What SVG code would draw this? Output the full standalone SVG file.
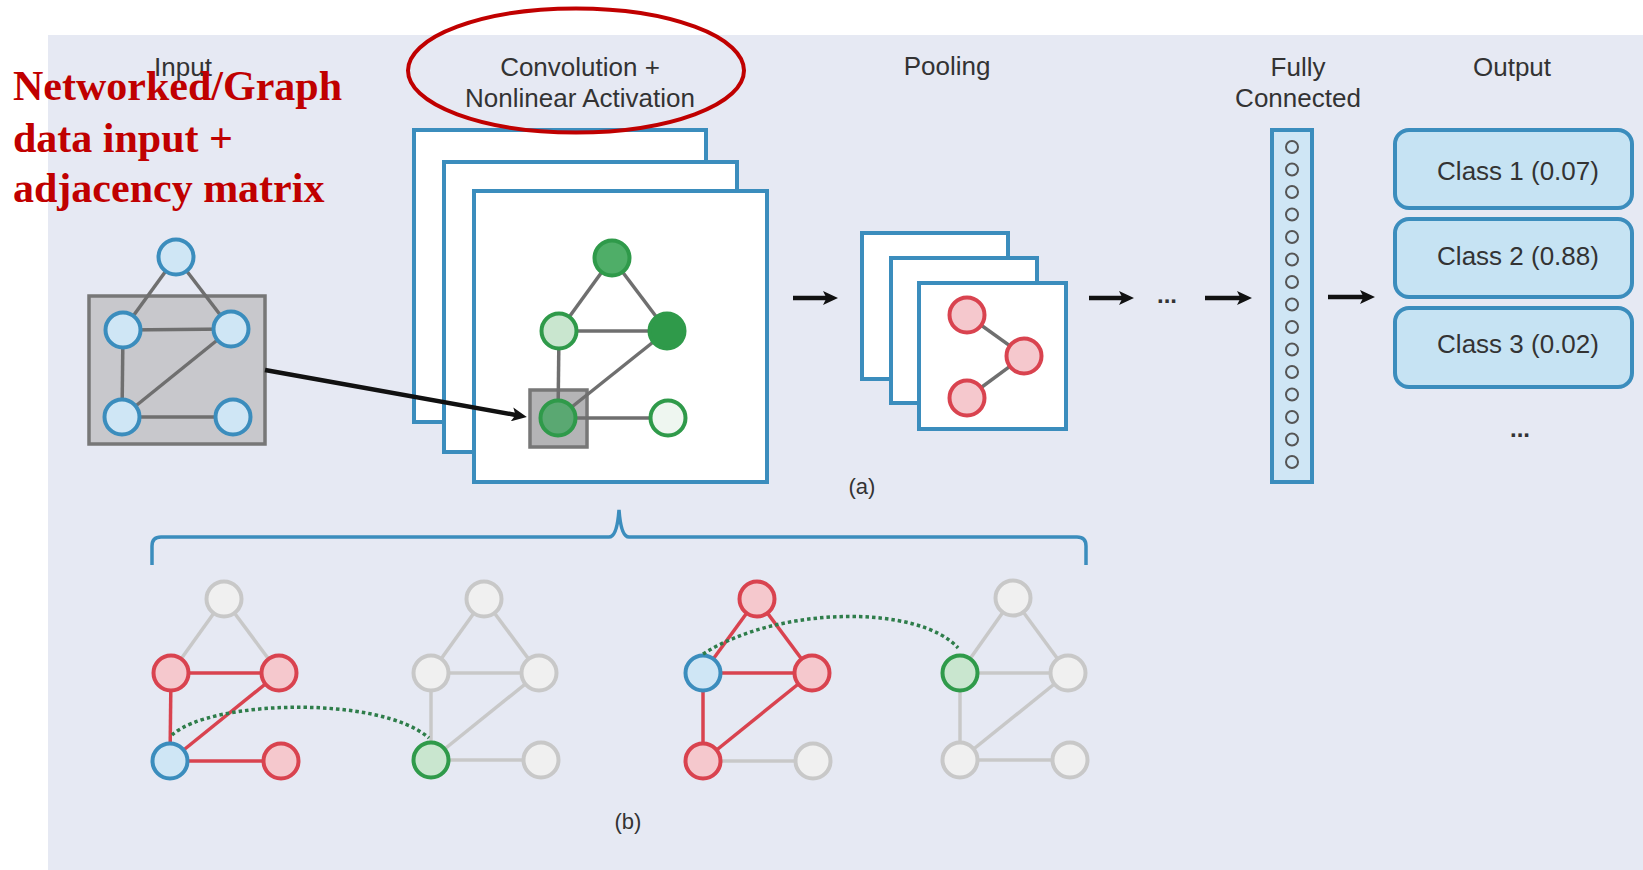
<svg xmlns="http://www.w3.org/2000/svg" width="1643" height="870" viewBox="0 0 1643 870">
<defs>
<style>
.lbl{font-family:"Liberation Sans",Arial,sans-serif;font-size:26px;fill:#333;text-anchor:middle}
.sm{font-family:"Liberation Sans",Arial,sans-serif;font-size:22px;fill:#333;text-anchor:middle}
.dots{font-family:"Liberation Sans",Arial,sans-serif;font-size:24px;font-weight:bold;fill:#333;text-anchor:middle}
.red{font-family:"Liberation Serif","Times New Roman",serif;font-size:42px;font-weight:bold;fill:#C00000}
.frame{fill:#fff;stroke:#3b8dbd;stroke-width:4}
.nb{fill:#cfe6f5;stroke:#3b8dbd;stroke-width:4}
.nr{fill:#f5c8cd;stroke:#d9434f;stroke-width:4}
.ng{fill:#f0f0f0;stroke:#c8c8c8;stroke-width:4}
.ngr{fill:#c9e6cf;stroke:#2f9a4a;stroke-width:4}
.ed{stroke:#6f6f6f;stroke-width:3.5;fill:none}
.eg{stroke:#c8c8c8;stroke-width:3.5;fill:none}
.er{stroke:#d9434f;stroke-width:3.5;fill:none}
.arr{stroke:#111;stroke-width:4.5;fill:none;marker-end:url(#ah)}
.dot{stroke:#2e7d4a;stroke-width:3.5;fill:none;stroke-dasharray:3.5 3}
.fc{fill:none;stroke:#555;stroke-width:2}
.ob{fill:#c6e3f3;stroke:#3b8dbd;stroke-width:4}
</style>
<marker id="ah" markerWidth="15" markerHeight="14" refX="5" refY="7" orient="auto" markerUnits="userSpaceOnUse">
<path d="M0,0 L15,7 L0,14 L3.5,7 z" fill="#111"/>
</marker>
</defs>
<rect x="0" y="0" width="1643" height="870" fill="#fff"/>
<rect x="48" y="35" width="1595" height="835" fill="#e6e9f3"/>

<g id="labels">
<text class="lbl" x="183" y="76">Input</text>
<text class="lbl" x="580" y="76">Convolution +</text>
<text class="lbl" x="580" y="107">Nonlinear Activation</text>
<text class="lbl" x="947" y="75">Pooling</text>
<text class="lbl" x="1298" y="76">Fully</text>
<text class="lbl" x="1298" y="107">Connected</text>
<text class="lbl" x="1512" y="76">Output</text>
<text class="sm" x="862" y="494">(a)</text>
<text class="sm" x="628" y="829">(b)</text>
</g>

<g id="input-graph">
<rect x="89" y="296" width="176" height="148" fill="#c8c8cc" stroke="#777" stroke-width="3.5"/>
<g class="ed">
<line x1="176" y1="257" x2="123" y2="330"/>
<line x1="176" y1="257" x2="231" y2="329"/>
<line x1="123" y1="330" x2="231" y2="329"/>
<line x1="123" y1="330" x2="122" y2="417"/>
<line x1="122" y1="417" x2="231" y2="329"/>
<line x1="122" y1="417" x2="233" y2="417"/>
</g>
<circle class="nb" cx="176" cy="257" r="17.5"/>
<circle class="nb" cx="123" cy="330" r="17.5"/>
<circle class="nb" cx="231" cy="329" r="17.5"/>
<circle class="nb" cx="122" cy="417" r="17.5"/>
<circle class="nb" cx="233" cy="417" r="17.5"/>
</g>

<g id="conv">
<rect class="frame" x="414" y="130" width="292" height="292"/>
<rect class="frame" x="444" y="162" width="293" height="290"/>
<rect class="frame" x="474" y="191" width="293" height="291"/>
<rect x="530" y="390" width="57" height="57" fill="#b4b4b6" stroke="#777" stroke-width="3.5"/>
<g class="ed">
<line x1="612" y1="258" x2="559" y2="331"/>
<line x1="612" y1="258" x2="667" y2="331"/>
<line x1="559" y1="331" x2="667" y2="331"/>
<line x1="559" y1="331" x2="558" y2="418"/>
<line x1="558" y1="418" x2="667" y2="331"/>
<line x1="558" y1="418" x2="668" y2="418"/>
</g>
<circle cx="612" cy="258" r="17.5" fill="#4fae68" stroke="#2f9a4a" stroke-width="4"/>
<circle cx="559" cy="331" r="17.5" fill="#c9e6cf" stroke="#2f9a4a" stroke-width="4"/>
<circle cx="667" cy="331" r="17.5" fill="#2f9a4a" stroke="#2f9a4a" stroke-width="4"/>
<circle cx="558" cy="418" r="17.5" fill="#5aa872" stroke="#2f9a4a" stroke-width="4"/>
<circle cx="668" cy="418" r="17.5" fill="#eef6f0" stroke="#2f9a4a" stroke-width="4"/>
</g>

<g id="pooling">
<rect class="frame" x="862" y="233" width="146" height="146"/>
<rect class="frame" x="891" y="258" width="146" height="145"/>
<rect class="frame" x="919" y="283" width="147" height="146"/>
<g class="ed">
<line x1="967" y1="315" x2="1024" y2="356"/>
<line x1="1024" y1="356" x2="967" y2="398"/>
</g>
<circle class="nr" cx="967" cy="315" r="17.5"/>
<circle class="nr" cx="1024" cy="356" r="17.5"/>
<circle class="nr" cx="967" cy="398" r="17.5"/>
</g>

<g id="fully-connected">
<rect x="1272" y="130" width="40" height="352" fill="#cfe6f5" stroke="#3b8dbd" stroke-width="4"/>
<g class="fc">
<circle cx="1292" cy="147" r="6"/>
<circle cx="1292" cy="169.5" r="6"/>
<circle cx="1292" cy="192" r="6"/>
<circle cx="1292" cy="214.5" r="6"/>
<circle cx="1292" cy="237" r="6"/>
<circle cx="1292" cy="259.5" r="6"/>
<circle cx="1292" cy="282" r="6"/>
<circle cx="1292" cy="304.5" r="6"/>
<circle cx="1292" cy="327" r="6"/>
<circle cx="1292" cy="349.5" r="6"/>
<circle cx="1292" cy="372" r="6"/>
<circle cx="1292" cy="394.5" r="6"/>
<circle cx="1292" cy="417" r="6"/>
<circle cx="1292" cy="439.5" r="6"/>
<circle cx="1292" cy="462" r="6"/>
</g>
</g>

<g id="output">
<rect class="ob" x="1395" y="130" width="237" height="78" rx="14"/>
<rect class="ob" x="1395" y="219" width="237" height="78" rx="14"/>
<rect class="ob" x="1395" y="308" width="237" height="79" rx="14"/>
<text class="lbl" x="1518" y="180">Class 1 (0.07)</text>
<text class="lbl" x="1518" y="265">Class 2 (0.88)</text>
<text class="lbl" x="1518" y="353">Class 3 (0.02)</text>
<text class="dots" x="1520" y="437">...</text>
</g>

<g id="connectors">
<line class="arr" x1="265" y1="370" x2="517" y2="415.2" stroke-width="3.5"/>
<line class="arr" x1="793" y1="298" x2="828" y2="298"/>
<line class="arr" x1="1089" y1="298" x2="1124" y2="298"/>
<line class="arr" x1="1205" y1="298" x2="1242" y2="298"/>
<line class="arr" x1="1328" y1="297" x2="1365" y2="297"/>
<text class="dots" x="1167" y="303">...</text>
</g>

<g id="brace">
<path d="M152,565 L152,546 Q152,537 161,537 L609,537 Q617,537 619,510 Q621,537 629,537 L1077,537 Q1086,537 1086,546 L1086,565" fill="none" stroke="#3b8dbd" stroke-width="3.5"/>
</g>

<g id="graph-b1">
<line class="eg" x1="224" y1="599" x2="171" y2="673"/>
<line class="eg" x1="224" y1="599" x2="279" y2="673"/>
<line class="er" x1="171" y1="673" x2="279" y2="673"/>
<line class="er" x1="171" y1="673" x2="170" y2="761"/>
<line class="er" x1="170" y1="761" x2="279" y2="673"/>
<line class="er" x1="170" y1="761" x2="281" y2="761"/>
<circle class="ng" cx="224" cy="599" r="17.5"/>
<circle class="nr" cx="171" cy="673" r="17.5"/>
<circle class="nr" cx="279" cy="673" r="17.5"/>
<circle class="nb" cx="170" cy="761" r="17.5"/>
<circle class="nr" cx="281" cy="761" r="17.5"/>
</g>

<g id="graph-b2">
<g class="eg">
<line x1="484" y1="599" x2="431" y2="673"/>
<line x1="484" y1="599" x2="539" y2="673"/>
<line x1="431" y1="673" x2="539" y2="673"/>
<line x1="431" y1="673" x2="431" y2="760"/>
<line x1="431" y1="760" x2="539" y2="673"/>
<line x1="431" y1="760" x2="541" y2="760"/>
</g>
<circle class="ng" cx="484" cy="599" r="17.5"/>
<circle class="ng" cx="431" cy="673" r="17.5"/>
<circle class="ng" cx="539" cy="673" r="17.5"/>
<circle class="ngr" cx="431" cy="760" r="17.5"/>
<circle class="ng" cx="541" cy="760" r="17.5"/>
</g>

<g id="graph-b3">
<line class="er" x1="757" y1="599" x2="703" y2="673"/>
<line class="er" x1="757" y1="599" x2="812" y2="673"/>
<line class="er" x1="703" y1="673" x2="812" y2="673"/>
<line class="er" x1="703" y1="673" x2="703" y2="761"/>
<line class="er" x1="703" y1="761" x2="812" y2="673"/>
<line class="eg" x1="703" y1="761" x2="813" y2="761"/>
<circle class="nr" cx="757" cy="599" r="17.5"/>
<circle class="nb" cx="703" cy="673" r="17.5"/>
<circle class="nr" cx="812" cy="673" r="17.5"/>
<circle class="nr" cx="703" cy="761" r="17.5"/>
<circle class="ng" cx="813" cy="761" r="17.5"/>
</g>

<g id="graph-b4">
<g class="eg">
<line x1="1013" y1="598" x2="960" y2="673"/>
<line x1="1013" y1="598" x2="1068" y2="673"/>
<line x1="960" y1="673" x2="1068" y2="673"/>
<line x1="960" y1="673" x2="960" y2="760"/>
<line x1="960" y1="760" x2="1068" y2="673"/>
<line x1="960" y1="760" x2="1070" y2="760"/>
</g>
<circle class="ng" cx="1013" cy="598" r="17.5"/>
<circle class="ngr" cx="960" cy="673" r="17.5"/>
<circle class="ng" cx="1068" cy="673" r="17.5"/>
<circle class="ng" cx="960" cy="760" r="17.5"/>
<circle class="ng" cx="1070" cy="760" r="17.5"/>
</g>

<g id="dotted-links">
<path class="dot" d="M172,735 C210,700 380,695 429,738"/>
<path class="dot" d="M703,654 C780,605 920,605 958,648"/>
</g>

<g id="red-annotation">
<ellipse cx="576" cy="70.5" rx="168" ry="62" fill="none" stroke="#C00000" stroke-width="4"/>
<text class="red" x="13" y="100">Networked/Graph</text>
<text class="red" x="13" y="152">data input +</text>
<text class="red" x="13" y="202">adjacency matrix</text>
</g>
</svg>
